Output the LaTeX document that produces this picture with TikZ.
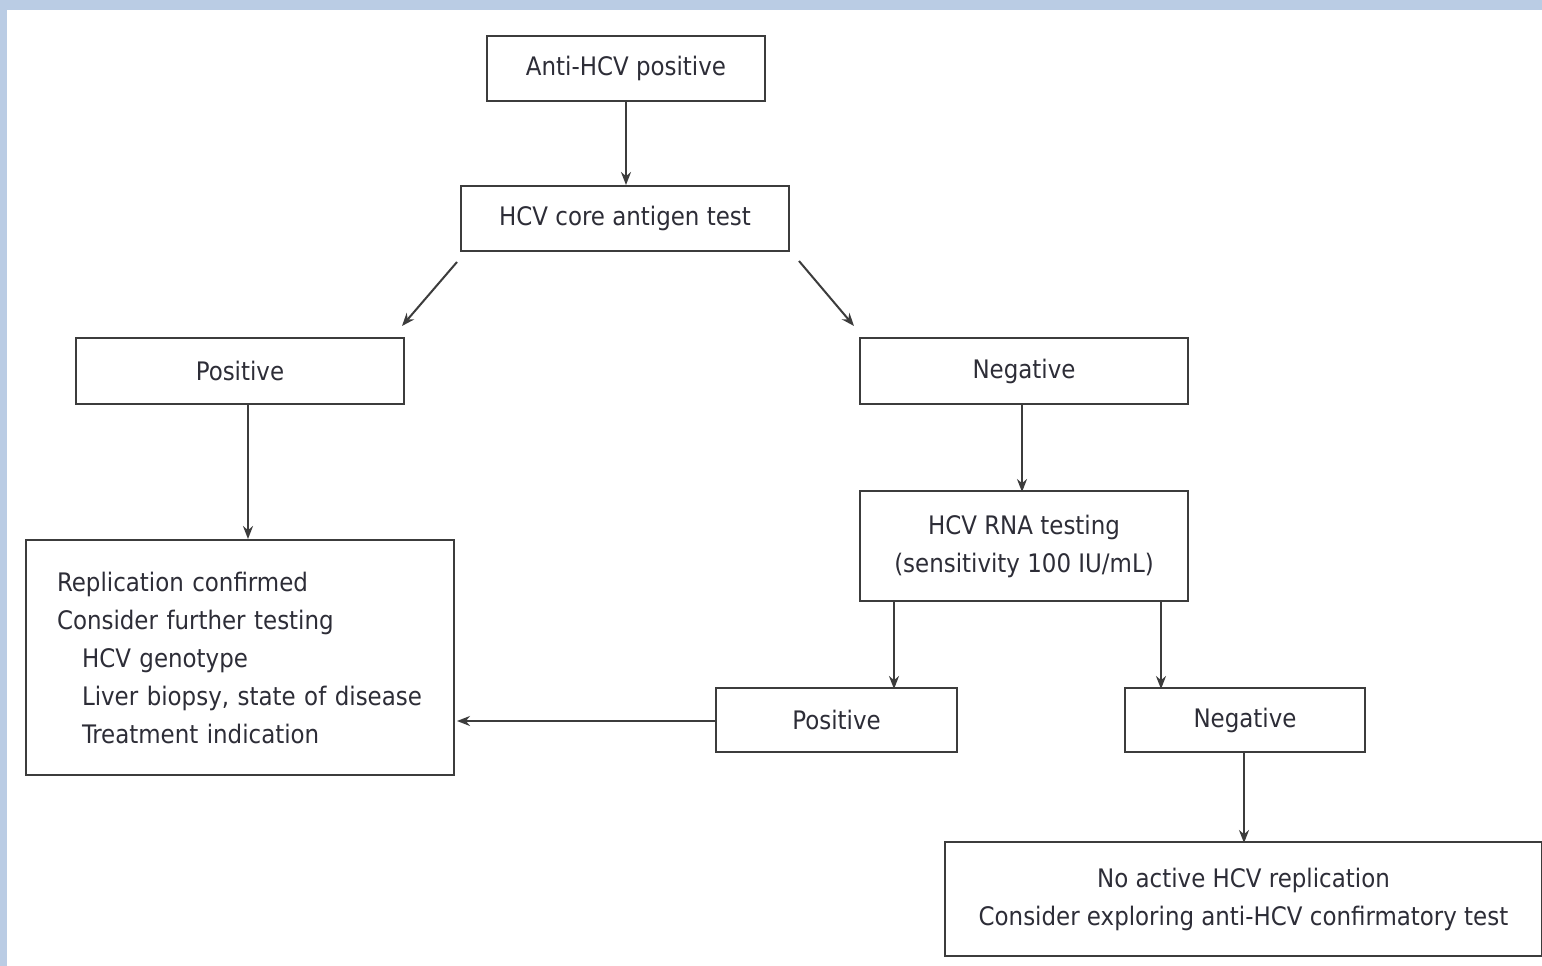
\documentclass[tikz,border=0pt]{standalone}
\usepackage{fontspec}
\setmainfont{DejaVu Sans Condensed}
\usetikzlibrary{arrows.meta}
\definecolor{bandblue}{RGB}{186,204,228}
\definecolor{linegray}{RGB}{60,60,60}
\definecolor{textgray}{RGB}{45,45,55}
\tikzset{
  box/.style={draw=linegray, line width=2pt, fill=white, inner sep=0pt, text=textgray,
              align=center, font=\fontsize{25.5}{38}\selectfont},
  arr/.style={draw=linegray, line width=2pt, -{Stealth[length=13pt,width=10pt]}}
}
\begin{document}
\begin{tikzpicture}[x=1pt,y=-1pt]
\useasboundingbox (0,0) rectangle (1542,966);
\fill[white] (0,0) rectangle (1542,966);
\fill[bandblue] (0,0) rectangle (1542,10);
\fill[bandblue] (0,0) rectangle (7,966);

\node[box, minimum width=278pt, minimum height=65pt] (A) at (626,68.5) {Anti-HCV positive};
\node[box, minimum width=328pt, minimum height=65pt] (B) at (625,218.5) {HCV core antigen test};
\node[box, minimum width=328pt, minimum height=66pt] (C) at (240,371) {Positive};
\node[box, minimum width=328pt, minimum height=66pt] (D) at (1024,371) {Negative};
\node[box, minimum width=328pt, minimum height=110pt] (F) at (1024,546) {HCV RNA testing\\(sensitivity 100 IU/mL)};
\node[box, text width=366pt, inner xsep=31pt, align=left, minimum height=235pt] (E) at (240,657.5)
  {Replication confirmed\\Consider further testing\\\hspace*{25pt}HCV genotype\\\hspace*{25pt}Liver biopsy, state of disease\\\hspace*{25pt}Treatment indication};
\node[box, minimum width=241pt, minimum height=64pt] (G) at (836.5,720) {Positive};
\node[box, minimum width=240pt, minimum height=64pt] (H) at (1245,720) {Negative};
\node[box, minimum width=597pt, minimum height=114pt] (I) at (1243.5,899) {No active HCV replication\\Consider exploring anti-HCV confirmatory test};

\coordinate (bl1) at (457,262);
\coordinate (bl2) at (402,326);
\coordinate (br1) at (799,261);
\coordinate (br2) at (854,326);

\draw[arr] (A.south -| 626,0) -- (B.north -| 626,0);
\draw[arr] (bl1) -- (bl2);
\draw[arr] (br1) -- (br2);
\draw[arr] (C.south -| 248,0) -- (E.north -| 248,0);
\draw[arr] (D.south -| 1022,0) -- ([yshift=-2pt]F.north -| 1022,0);
\draw[arr] (F.south -| 894,0) -- ([yshift=-2pt]G.north -| 894,0);
\draw[arr] (F.south -| 1161,0) -- ([yshift=-2pt]H.north -| 1161,0);
\draw[arr] (G.west |- 0,721) -- ([xshift=2pt]E.east |- 0,721);
\draw[arr] (H.south -| 1244,0) -- ([yshift=-2pt]I.north -| 1244,0);
\end{tikzpicture}
\end{document}
